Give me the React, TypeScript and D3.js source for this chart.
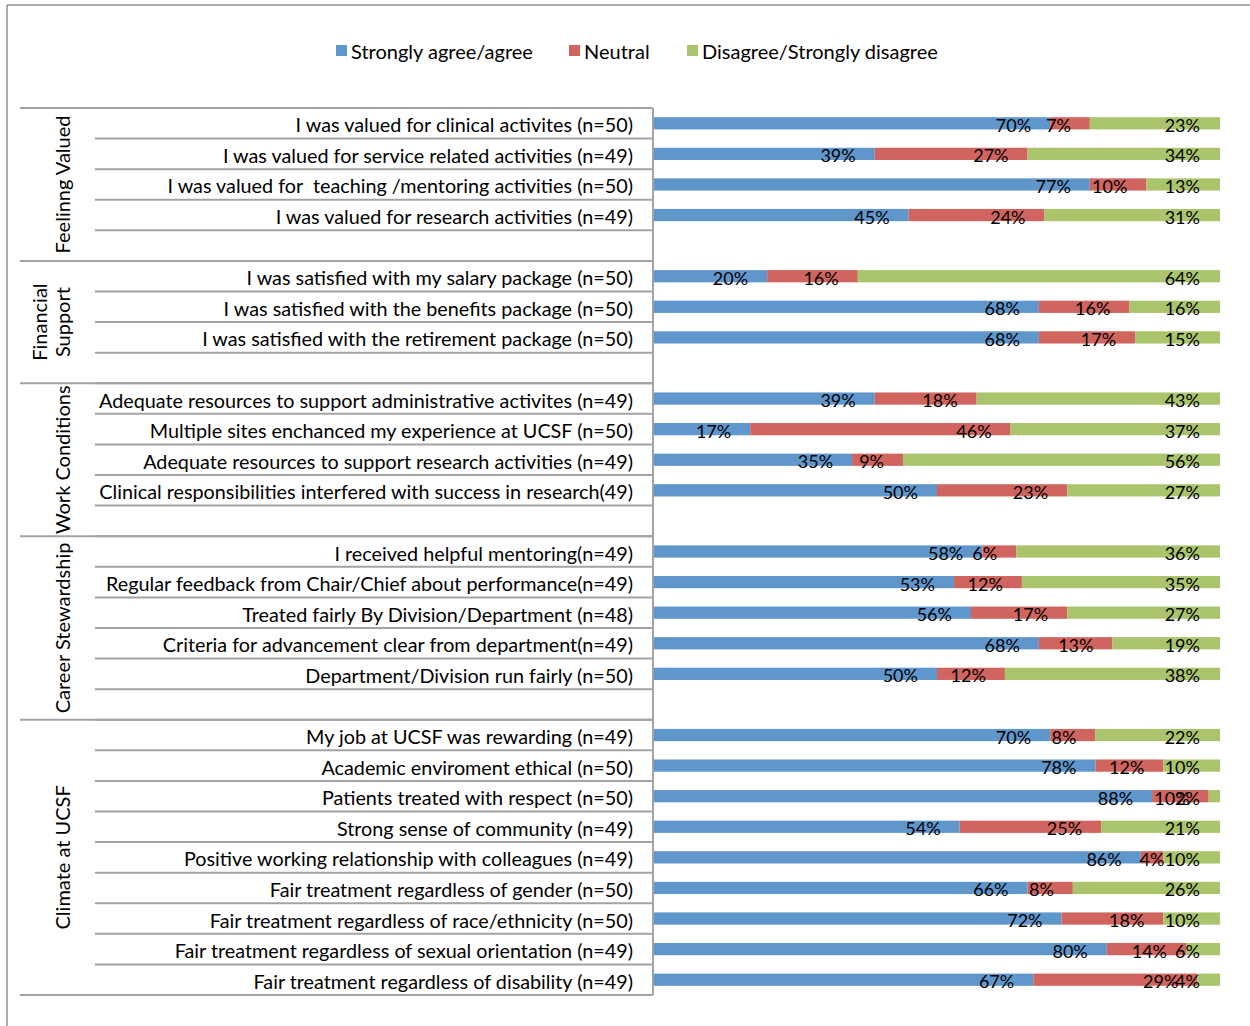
import * as d3 from 'd3';

const groupNames = [['Feelinng Valued'], ['Financial', 'Support'], ['Work Conditions'], ['Career Stewardship'], ['Climate at UCSF']];
const groupSizes = [4, 3, 4, 5, 9];

const questions = [
  'I was valued for clinical activites (n=50)',
  'I was valued for service related activities (n=49)',
  'I was valued for  teaching /mentoring activities (n=50)',
  'I was valued for research activities (n=49)',
  'I was satisfied with my salary package (n=50)',
  'I was satisfied with the benefits package (n=50)',
  'I was satisfied with the retirement package (n=50)',
  'Adequate resources to support administrative activites (n=49)',
  'Multiple sites enchanced my experience at UCSF (n=50)',
  'Adequate resources to support research activities (n=49)',
  'Clinical responsibilities interfered with success in research(49)',
  'I received helpful mentoring(n=49)',
  'Regular feedback from Chair/Chief about performance(n=49)',
  'Treated fairly By Division/Department (n=48)',
  'Criteria for advancement clear from department(n=49)',
  'Department/Division run fairly (n=50)',
  'My job at UCSF was rewarding (n=49)',
  'Academic enviroment ethical (n=50)',
  'Patients treated with respect (n=50)',
  'Strong sense of community (n=49)',
  'Positive working relationship with colleagues (n=49)',
  'Fair treatment regardless of gender (n=50)',
  'Fair treatment regardless of race/ethnicity (n=50)',
  'Fair treatment regardless of sexual orientation (n=49)',
  'Fair treatment regardless of disability (n=49)',
];

const agree = [70, 39, 77, 45, 20, 68, 68, 39, 17, 35, 50, 58, 53, 56, 68, 50, 70, 78, 88, 54, 86, 66, 72, 80, 67];
const neutral = [7, 27, 10, 24, 16, 16, 17, 18, 46, 9, 23, 6, 12, 17, 13, 12, 8, 12, 10, 25, 4, 8, 18, 14, 29];
const disagree = [23, 34, 13, 31, 64, 16, 15, 43, 37, 56, 27, 36, 35, 27, 19, 38, 22, 10, 2, 21, 10, 26, 10, 6, 4];

const seriesNames = ['Strongly agree/agree', 'Neutral', 'Disagree/Strongly disagree'];
const seriesColors = ['#5f96cc', '#d0655f', '#aac46b'];

const FONT = 'Lato, "Open Sans", sans-serif';
const GRID = '#a3a3a3';
const LABEL_SIZE = 18;

// slot list: every question plus an empty slot after each group but the last
type Slot = { key: string; q: number };
const slots: Slot[] = [];
let qi = 0;
groupSizes.forEach((n, g) => {
  for (let i = 0; i < n; i++) { slots.push({ key: 'q' + qi, q: qi }); qi++; }
  if (g < groupSizes.length - 1) slots.push({ key: 'blank' + g, q: -1 });
});

// text width, for placing the data labels like Excel does
const ctx = typeof document !== 'undefined' ? document.createElement('canvas').getContext('2d') : null;
function textWidth(t: string) {
  if (!ctx) return t.length * LABEL_SIZE * 0.6;
  ctx.font = `${LABEL_SIZE}px Lato`;
  return ctx.measureText(t).width;
}

export default function App() {
  const width = 1250;
  const height = 1026;
  const axisX = 653;
  const top = 108;
  const bottom = 995;

  const y = d3.scaleBand<string>().domain(slots.map(s => s.key)).range([top, bottom]).padding(0);
  const x = d3.scaleLinear().domain([0, 100]).range([axisX + 1, 1220]);
  const barH = y.bandwidth() * 0.4;
  const maxRight = x(100) - 20;

  const rows = questions.map((q, i) => {
    const vals = [agree[i], neutral[i], disagree[i]];
    const stack: { s: number; x0: number; x1: number; v: number; lx: number }[] = [];
    let acc = 0;
    vals.forEach((v, s) => {
      const a = x(acc), b = x(acc + v);
      const w = textWidth(v + '%');
      // inside end, or centred if the segment is too small
      let right = (w + 8 > b - a) ? (a + b) / 2 + w / 2 : b - 19;
      right = Math.min(right, maxRight);
      stack.push({ s, x0: acc, x1: acc + v, v, lx: right });
      acc += v;
    });
    return { q, i, stack };
  });

  // group boundaries in slot units
  const groupBounds: { start: number; end: number }[] = [];
  let si = 0;
  groupSizes.forEach((n, g) => {
    const span = n + (g < groupSizes.length - 1 ? 1 : 0);
    groupBounds.push({ start: si, end: si + span });
    si += span;
  });
  const step = y.step();

  const legendX = [336, 569, 687];

  return (
    <div style={{ position: 'absolute', left: 0, top: 0 }}>
      <svg width={width} height={height} style={{ display: 'block', background: '#fff' }}>
        {/* outer frame */}
        <line x1={7} x2={width} y1={5} y2={5} stroke="#8f8f8f" strokeWidth={1.5} />
        <line x1={7} x2={7} y1={5} y2={height} stroke="#8f8f8f" strokeWidth={1.5} />

        {/* legend */}
        {seriesNames.map((name, s) => (
          <g key={name} transform={`translate(${legendX[s]},51)`}>
            <rect x={0} y={-6} width={11} height={11} fill={seriesColors[s]} />
            <text x={15} y={0} dominantBaseline="central" fontFamily={FONT} fontSize={20} fill="#000">{name}</text>
          </g>
        ))}

        {/* category grid lines */}
        {slots.map((s, k) => (
          <line key={'r' + k} x1={95} x2={axisX} y1={top + k * step} y2={top + k * step} stroke={GRID} strokeWidth={2} />
        ))}
        {groupBounds.map((b, g) => (
          <line key={'g' + g} x1={20} x2={axisX} y1={top + b.start * step} y2={top + b.start * step} stroke={GRID} strokeWidth={2} />
        ))}
        <line x1={20} x2={axisX} y1={bottom} y2={bottom} stroke={GRID} strokeWidth={2} />
        <line x1={axisX} x2={axisX} y1={top} y2={bottom} stroke={GRID} strokeWidth={2} />

        {/* group labels */}
        {groupBounds.map((b, g) => {
          const cy = top + ((b.start + b.end) / 2) * step;
          const lines = groupNames[g];
          return (
            <text key={'gl' + g} transform={`translate(63,${cy}) rotate(-90)`} textAnchor="middle"
              fontFamily={FONT} fontSize={20} fill="#000">
              {lines.map((t, j) => (
                <tspan key={j} x={0} y={(j - (lines.length - 1)) * 23} dy="0.35em">{t}</tspan>
              ))}
            </text>
          );
        })}

        {/* question labels */}
        {rows.map(r => (
          <text key={'ql' + r.i} x={633} y={(y('q' + r.i) as number) + y.bandwidth() / 2 + 1} textAnchor="end"
            dominantBaseline="central" fontFamily={FONT} fontSize={19.8} fill="#000" style={{ whiteSpace: 'pre' }}>
            {r.q}
          </text>
        ))}

        {/* bars */}
        {rows.map(r => {
          const cy = (y('q' + r.i) as number) + y.bandwidth() / 2;
          return (
            <g key={'b' + r.i}>
              {r.stack.map(seg => (
                <rect key={seg.s} x={x(seg.x0)} y={cy - barH / 2} width={x(seg.x1) - x(seg.x0)} height={barH}
                  fill={seriesColors[seg.s]} />
              ))}
              {r.stack.map(seg => (
                <text key={'t' + seg.s} x={seg.lx} y={cy + 1.5} textAnchor="end" dominantBaseline="central"
                  fontFamily={FONT} fontSize={LABEL_SIZE} fill="#000">{seg.v}%</text>
              ))}
            </g>
          );
        })}
      </svg>
    </div>
  );
}
